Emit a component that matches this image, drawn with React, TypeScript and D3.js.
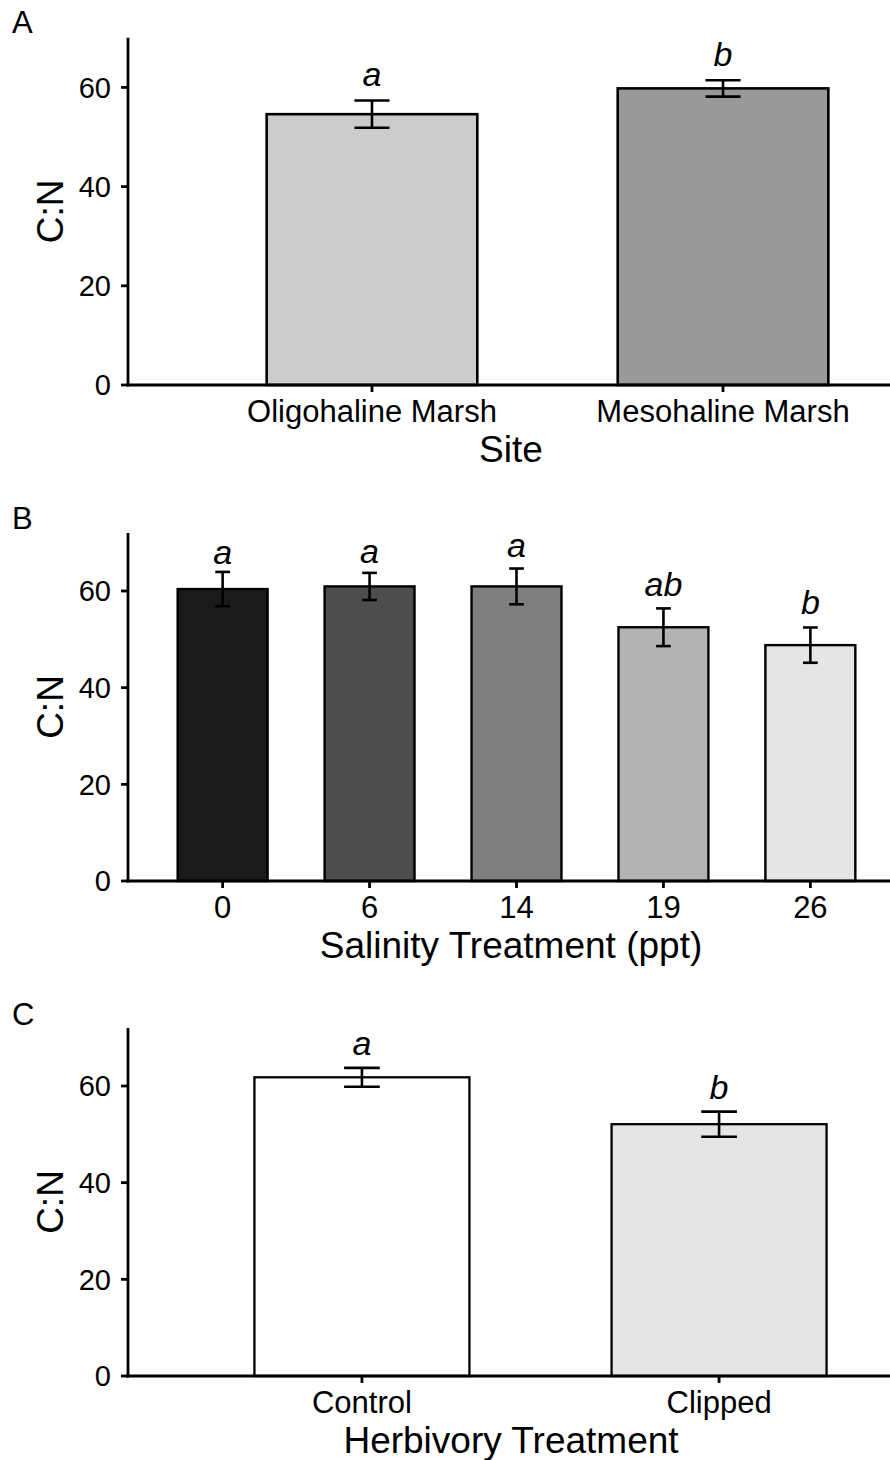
import React from "react";
import * as d3 from "d3";

// ---------- data ----------
const siteCategories = ["Oligohaline Marsh", "Mesohaline Marsh"];
const siteMeans = [54.6, 59.8];
const siteSE = [2.75, 1.65];
const siteLetters = ["a", "b"];
const siteLetterY = [60.3, 64.3];
const siteFills = ["#cccccc", "#999999"];

const salinityCategories = ["0", "6", "14", "19", "26"];
const salinityMeans = [60.4, 60.95, 60.95, 52.5, 48.8];
const salinitySE = [3.55, 2.8, 3.7, 3.9, 3.65];
const salinityLetters = ["a", "a", "a", "ab", "b"];
const salinityLetterY = [65.6, 65.8, 67.1, 58.9, 55.3];
const salinityFills = ["#1a1a1a", "#4d4d4d", "#7f7f7f", "#b3b3b3", "#e5e5e5"];

const herbCategories = ["Control", "Clipped"];
const herbMeans = [61.8, 52.1];
const herbSE = [1.95, 2.6];
const herbLetters = ["a", "b"];
const herbLetterY = [66.5, 57.25];
const herbFills = ["#ffffff", "#e5e5e5"];

const yTicks = [0, 20, 40, 60];

const FONT = "'Liberation Sans', Arial, Helvetica, sans-serif";

type PanelProps = {
  tag: string;
  tagY: number;
  cats: string[];
  means: number[];
  se: number[];
  letters: string[];
  letterY: number[];
  fills: string[];
  title: string;
  yMax: number;
  yBottom: number;
  yTop: number;
  xRight: number;
  padInner: number;
  padOuter: number;
  barStroke: number;
};

const AXIS_X = 128;

function Panel(p: PanelProps) {
  const x = d3
    .scaleBand<string>()
    .domain(p.cats)
    .range([AXIS_X, p.xRight])
    .paddingInner(p.padInner)
    .paddingOuter(p.padOuter);
  const y = d3.scaleLinear().domain([0, p.yMax]).range([p.yBottom, p.yTop]);
  const bw = x.bandwidth();
  const cap = x.step() * 0.1;
  return (
    <g>
      <text x={12} y={p.tagY} fontSize={31} fontFamily={FONT} fill="#000">
        {p.tag}
      </text>
      {/* bars */}
      {p.cats.map((c, i) => (
        <rect
          key={"b" + c}
          x={x(c)!}
          y={y(p.means[i])}
          width={bw}
          height={y(0) - y(p.means[i])}
          fill={p.fills[i]}
          stroke="#000"
          strokeWidth={p.barStroke}
        />
      ))}
      {/* error bars */}
      {p.cats.map((c, i) => {
        const cx = x(c)! + bw / 2;
        const hi = y(p.means[i] + p.se[i]);
        const lo = y(p.means[i] - p.se[i]);
        return (
          <g key={"e" + c} stroke="#000" strokeWidth={2.6}>
            <line x1={cx} x2={cx} y1={hi} y2={lo} />
            <line x1={cx - cap / 2} x2={cx + cap / 2} y1={hi} y2={hi} />
            <line x1={cx - cap / 2} x2={cx + cap / 2} y1={lo} y2={lo} />
          </g>
        );
      })}
      {/* letters */}
      {p.cats.map((c, i) => (
        <text
          key={"l" + c}
          x={x(c)! + bw / 2}
          y={y(p.letterY[i])}
          textAnchor="middle"
          fontSize={34}
          fontStyle="italic"
          fontFamily={FONT}
          fill="#000"
        >
          {p.letters[i]}
        </text>
      ))}
      {/* y axis */}
      <line x1={AXIS_X} x2={AXIS_X} y1={y(0) + 1.4} y2={y(p.yMax)} stroke="#000" strokeWidth={2.8} />
      {yTicks.map((t) => (
        <g key={"yt" + t}>
          <line x1={AXIS_X - 7} x2={AXIS_X} y1={y(t)} y2={y(t)} stroke="#000" strokeWidth={2.8} />
          <text
            x={AXIS_X - 17}
            y={y(t)}
            dy="0.36em"
            textAnchor="end"
            fontSize={29}
            fontFamily={FONT}
            fill="#000"
          >
            {t}
          </text>
        </g>
      ))}
      <text
        transform={`translate(63,${(y(0) + y(p.yMax)) / 2}) rotate(-90)`}
        textAnchor="middle"
        fontSize={37}
        fontFamily={FONT}
        fill="#000"
      >
        C:N
      </text>
      {/* x axis */}
      <line x1={AXIS_X - 1.4} x2={900} y1={y(0)} y2={y(0)} stroke="#000" strokeWidth={2.8} />
      {p.cats.map((c) => (
        <g key={"xt" + c}>
          <line
            x1={x(c)! + bw / 2}
            x2={x(c)! + bw / 2}
            y1={y(0)}
            y2={y(0) + 7}
            stroke="#000"
            strokeWidth={2.8}
          />
          <text
            x={x(c)! + bw / 2}
            y={y(0) + 36.5}
            textAnchor="middle"
            fontSize={31}
            fontFamily={FONT}
            fill="#000"
          >
            {c}
          </text>
        </g>
      ))}
      <text
        x={511}
        y={y(0) + 77}
        textAnchor="middle"
        fontSize={37}
        fontFamily={FONT}
        fill="#000"
      >
        {p.title}
      </text>
    </g>
  );
}

export default function App() {
  return (
    <svg
      width={890}
      height={1460}
      viewBox="0 0 890 1460"
      style={{ position: "absolute", left: 0, top: 0, display: "block", background: "#fff" }}
    >
      <rect x={0} y={0} width={890} height={1460} fill="#fff" />
      <Panel
        tag="A"
        tagY={33}
        cats={siteCategories}
        means={siteMeans}
        se={siteSE}
        letters={siteLetters}
        letterY={siteLetterY}
        fills={siteFills}
        title="Site"
        yMax={70}
        yBottom={385}
        yTop={37.8}
        xRight={967}
        padInner={0.4}
        padOuter={0.395}
        barStroke={2.6}
      />
      <Panel
        tag="B"
        tagY={529}
        cats={salinityCategories}
        means={salinityMeans}
        se={salinitySE}
        letters={salinityLetters}
        letterY={salinityLetterY}
        fills={salinityFills}
        title="Salinity Treatment (ppt)"
        yMax={72}
        yBottom={881}
        yTop={533}
        xRight={905}
        padInner={0.388}
        padOuter={0.338}
        barStroke={2.4}
      />
      <Panel
        tag="C"
        tagY={1025}
        cats={herbCategories}
        means={herbMeans}
        se={herbSE}
        letters={herbLetters}
        letterY={herbLetterY}
        fills={herbFills}
        title="Herbivory Treatment"
        yMax={72}
        yBottom={1376}
        yTop={1028}
        xRight={953}
        padInner={0.398}
        padOuter={0.354}
        barStroke={2.3}
      />
    </svg>
  );
}
